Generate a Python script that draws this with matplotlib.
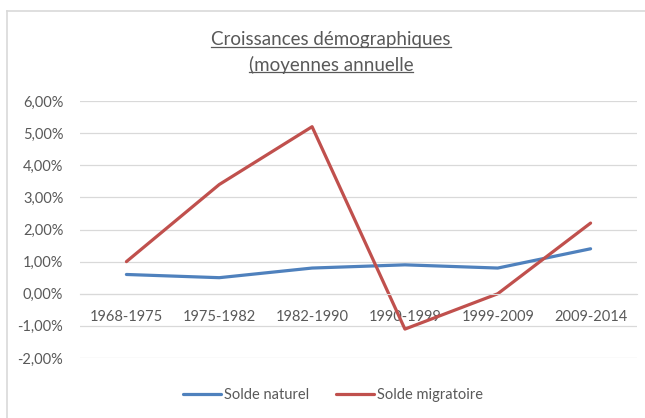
import matplotlib
matplotlib.use('Agg')
import matplotlib.pyplot as plt
from matplotlib.lines import Line2D
from matplotlib.ticker import FuncFormatter

# Périodes et taux de croissance annuels moyens (%)
periodes = ['1968-1975', '1975-1982', '1982-1990', '1990-1999', '1999-2009', '2009-2014']
solde_naturel = [0.6, 0.5, 0.8, 0.9, 0.8, 1.4]
solde_migratoire = [1.0, 3.4, 5.2, -1.1, 0.0, 2.2]
titre = ['Croissances démographiques', '(moyennes annuelle']

gris = '#595959'
plt.rcParams['font.family'] = ['Lato', 'DejaVu Sans']

fig = plt.figure(figsize=(6.45, 4.18), dpi=100)
ax = fig.add_axes([80 / 645, 1 - 358 / 418, 557 / 645, 257 / 418])

x = list(range(len(periodes)))
ax.plot(x, solde_naturel, color='#4F81BD', lw=2.3, label='Solde naturel', solid_capstyle='round')
ax.plot(x, solde_migratoire, color='#C0504D', lw=2.3, label='Solde migratoire', solid_capstyle='round')

ax.set_xlim(-0.5, len(periodes) - 0.5)
ax.set_ylim(-2, 6)
ax.set_yticks(range(-2, 7))
ax.yaxis.set_major_formatter(FuncFormatter(lambda v, p: f'{v:.2f}%'.replace('.', ',')))
ax.grid(axis='y', color='#D9D9D9', lw=0.9)
ax.set_axisbelow(True)
for s in ['top', 'right', 'left']:
    ax.spines[s].set_visible(False)
ax.spines['bottom'].set_position(('data', 0))
ax.spines['bottom'].set_color('#D9D9D9')
ax.set_xticks(x)
ax.set_xticklabels(periodes)
ax.tick_params(axis='x', length=0, pad=12, labelsize=10.5, labelcolor=gris)
ax.tick_params(axis='y', length=0, pad=12, labelsize=10.5, labelcolor=gris)

# cadre du graphique (bords gauche et haut)
fig.add_artist(Line2D([7 / 645, 7 / 645], [0, 1 - 11 / 418], color='#D9D9D9', lw=1.2))
fig.add_artist(Line2D([7 / 645, 1], [1 - 11 / 418, 1 - 11 / 418], color='#D9D9D9', lw=1.2))

# titre souligné
t1 = fig.text(331 / 645, 1 - 40 / 418, titre[0], ha='center', va='center', fontsize=13.5, color=gris)
t2 = fig.text(331 / 645, 1 - 65 / 418, titre[1], ha='center', va='center', fontsize=13.5, color=gris)
fig.canvas.draw()
inv = fig.transFigure.inverted()
for t in (t1, t2):
    bb = t.get_window_extent()
    (x0, y0), (x1, _) = inv.transform([(bb.x0, bb.y0), (bb.x1, bb.y1)])
    fig.add_artist(Line2D([x0, x1], [y0 + 2 / 418, y0 + 2 / 418], color=gris, lw=0.9))

fig.legend(loc='center', bbox_to_anchor=(333 / 645, 23 / 418), ncol=2, frameon=False,
           fontsize=10.5, labelcolor=gris, handlelength=2.6, handletextpad=0.2,
           columnspacing=1.8)

fig.savefig('out.png', dpi=100)
